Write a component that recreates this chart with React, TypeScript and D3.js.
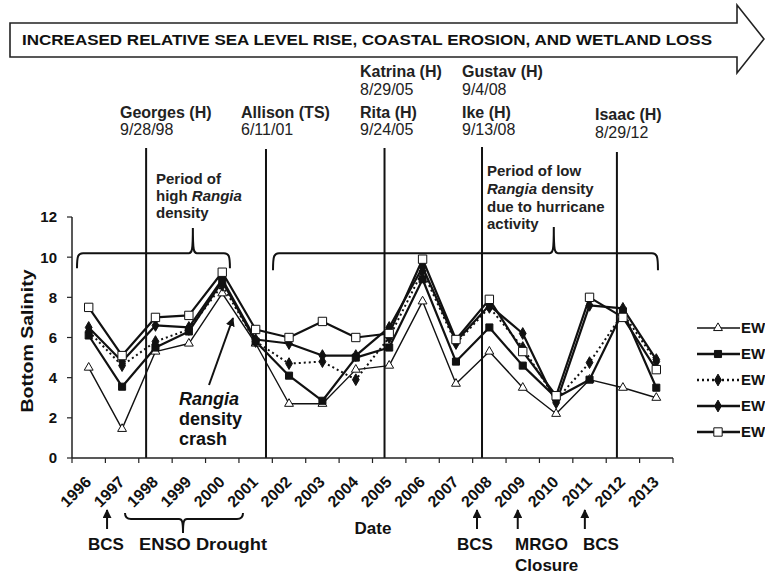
import React from "react";
import * as d3 from "d3";

const years = [1996, 1997, 1998, 1999, 2000, 2001, 2002, 2003, 2004, 2005, 2006, 2007, 2008, 2009, 2010, 2011, 2012, 2013];
const ew1 = [4.5, 1.45, 5.3, 5.7, 8.2, 5.7, 2.7, 2.7, 4.4, 4.6, 7.8, 3.7, 5.3, 3.5, 2.2, 3.9, 3.5, 3.0];
const ew2 = [6.1, 3.55, 5.5, 6.3, 8.8, 5.8, 4.1, 2.85, 5.0, 5.5, 8.9, 4.8, 6.5, 4.6, 3.0, 3.9, 7.3, 3.5];
const ew3 = [6.3, 4.6, 5.8, 6.4, 8.6, 5.8, 4.7, 4.8, 3.9, 6.0, 9.3, 5.7, 7.5, 5.5, 2.9, 4.75, 7.2, 4.8];
const ew4 = [6.5, 4.8, 6.6, 6.5, 8.9, 5.9, 5.7, 5.1, 5.1, 6.5, 9.5, 5.8, 7.6, 6.2, 2.75, 7.6, 7.45, 4.9];
const ew5 = [7.5, 5.1, 7.0, 7.1, 9.25, 6.4, 6.0, 6.8, 6.0, 6.2, 9.9, 5.9, 7.9, 5.3, 3.1, 8.0, 7.0, 4.4];
// legend entries are cut off at the right edge in the reference; only "EW" is visible
const seriesNames = ["EW", "EW", "EW", "EW", "EW"];
const yTicks = [0, 2, 4, 6, 8, 10, 12];

const events = [
  { name: "Georges (H)", date: "9/28/98", at: 1997.72, lx: 120, top: 148 },
  { name: "Allison (TS)", date: "6/11/01", at: 2001.31, lx: 241, top: 149 },
  { name: "Rita (H)", date: "9/24/05", at: 2004.86, lx: 360, top: 148 },
  { name: "Ike (H)", date: "9/13/08", at: 2007.78, lx: 462, top: 147 },
  { name: "Isaac (H)", date: "8/29/12", at: 2011.82, lx: 595, top: 152 },
];
const earlyEvents = [
  { name: "Katrina (H)", date: "8/29/05", lx: 360 },
  { name: "Gustav (H)", date: "9/4/08", lx: 462 },
];
const bottomNotes = [
  { at: 1996.55, lines: ["BCS"], tx: 106, anchor: "middle" },
  { at: 2007.63, lines: ["BCS"], tx: 475, anchor: "middle" },
  { at: 2008.85, lines: ["MRGO", "Closure"], tx: 515, anchor: "start" },
  { at: 2010.86, lines: ["BCS"], tx: 583, anchor: "start" },
];

const FONT = "'Liberation Sans', Arial, Helvetica, sans-serif";

function bracePath(X0: number, X1: number, XC: number, Y: number, YE: number, YT: number) {
  const dir = YE > Y ? 1 : -1;
  return `M${X0},${YE} C${X0},${Y + dir * 3} ${X0 + 1},${Y} ${X0 + 6},${Y} L${XC - 4},${Y} C${XC - 1},${Y} ${XC},${Y - dir * 2} ${XC},${YT} C${XC},${Y - dir * 2} ${XC + 1},${Y} ${XC + 4},${Y} L${X1 - 6},${Y} C${X1 - 1},${Y} ${X1},${Y + dir * 3} ${X1},${YE}`;
}

export default function App() {
  const x = d3.scaleLinear().domain([1995.5, 2013.5]).range([72, 673]);
  const y = d3.scaleLinear().domain([0, 12]).range([458, 217]);
  const xTicks = d3.range(1995.5, 2014, 1);

  const data = [ew1, ew2, ew3, ew4, ew5];
  const styles = [
    { width: 1.4, dash: undefined as string | undefined, sym: d3.symbolTriangle, size: 34, fill: "#fff" },
    { width: 2.2, dash: undefined, sym: d3.symbolSquare, size: 50, fill: "#111" },
    { width: 2, dash: "2,3", sym: d3.symbolDiamond, size: 40, fill: "#111" },
    { width: 2.2, dash: undefined, sym: d3.symbolDiamond, size: 40, fill: "#111" },
    { width: 2.2, dash: undefined, sym: d3.symbolSquare, size: 70, fill: "#fff" },
  ];
  const line = d3
    .line<number>()
    .x((_, i) => x(years[i]))
    .y((d) => y(d));

  const legendY = [328, 354, 380, 406, 432];

  return (
    <div style={{ position: "absolute", left: 0, top: 0, width: 765, height: 575, overflow: "hidden", background: "#fff" }}>
      <svg width={765} height={575} style={{ display: "block", fontFamily: FONT }}>
        <defs>
          <marker id="ah" viewBox="0 0 10 10" refX="9" refY="5" markerWidth="9" markerHeight="9" orient="auto" markerUnits="userSpaceOnUse">
            <path d="M0,0 L10,5 L0,10 Z" fill="#111" />
          </marker>
        </defs>
        <rect x={0} y={0} width={765} height={575} fill="#fff" />

        {/* top arrow */}
        <path d="M10,23 L737,23 L737,5 L764,39 L737,73 L737,57 L10,57 Z" fill="#fff" stroke="#222" strokeWidth={1.6} />
        <text x={22} y={45} fontSize={14} fontWeight="bold" fill="#111" textLength={690} lengthAdjust="spacingAndGlyphs">
          INCREASED RELATIVE SEA LEVEL RISE, COASTAL EROSION, AND WETLAND LOSS
        </text>

        {/* hurricane labels */}
        {earlyEvents.map((e) => (
          <g key={e.name}>
            <text x={e.lx} y={77} fontSize={16} fontWeight="bold" fill="#222">{e.name}</text>
            <text x={e.lx} y={95} fontSize={16} fill="#222">{e.date}</text>
          </g>
        ))}
        {events.map((e) => (
          <g key={e.name}>
            <text x={e.lx} y={e.name === "Isaac (H)" ? 120 : 118} fontSize={16} fontWeight="bold" fill="#222">{e.name}</text>
            <text x={e.lx} y={e.name === "Isaac (H)" ? 138 : 135} fontSize={16} fill="#222">{e.date}</text>
            <line x1={x(e.at)} x2={x(e.at)} y1={e.top} y2={y(0)} stroke="#111" strokeWidth={2} />
          </g>
        ))}

        {/* period annotations */}
        <g fontSize={15} fontWeight="bold" fill="#222">
          <text x={156} y={184}>Period of</text>
          <text x={156} y={201}>high <tspan fontStyle="italic">Rangia</tspan></text>
          <text x={156} y={218}>density</text>
          <text x={487} y={176}>Period of low</text>
          <text x={487} y={194}><tspan fontStyle="italic">Rangia</tspan> density</text>
          <text x={487} y={212}>due to hurricane</text>
          <text x={487} y={229}>activity</text>
        </g>
        <path d={bracePath(x(1995.65), x(2000.23), x(1999.12), y(10.2), y(9.45), y(11.45))} fill="none" stroke="#111" strokeWidth={2} />
        <path d={bracePath(x(2001.52), x(2013.05), x(2009.93), y(10.2), y(9.35), y(11.5))} fill="none" stroke="#111" strokeWidth={2} />

        {/* axes */}
        <line x1={x(1995.5)} x2={x(2013.5)} y1={y(0)} y2={y(0)} stroke="#222" strokeWidth={1.5} />
        <line x1={x(1995.5)} x2={x(1995.5)} y1={y(0)} y2={y(12)} stroke="#222" strokeWidth={1.5} />
        {xTicks.map((t) => (
          <line key={t} x1={x(t)} x2={x(t)} y1={y(0)} y2={y(0) + 5} stroke="#222" strokeWidth={1.2} />
        ))}
        {yTicks.map((t) => (
          <g key={t}>
            <line x1={x(1995.5) - 5} x2={x(1995.5)} y1={y(t)} y2={y(t)} stroke="#222" strokeWidth={1.2} />
            <text x={57} y={y(t)} dy="0.36em" textAnchor="end" fontSize={15} fontWeight="bold" fill="#111">{t}</text>
          </g>
        ))}
        {years.map((yr) => (
          <text key={yr} transform={`translate(${x(yr) + 3.5},483) rotate(-45)`} textAnchor="end" fontSize={16} fontWeight="bold" fill="#111">
            {yr}
          </text>
        ))}
        <text transform="translate(33,341) rotate(-90)" textAnchor="middle" fontSize={17} fontWeight="bold" fill="#111" textLength={143} lengthAdjust="spacingAndGlyphs">
          Bottom Salinity
        </text>
        <text x={373} y={534} textAnchor="middle" fontSize={17} fontWeight="bold" fill="#111">Date</text>

        {/* series lines */}
        {data.map((d, i) => (
          <path key={i} d={line(d) || ""} fill="none" stroke="#111" strokeWidth={styles[i].width} strokeDasharray={styles[i].dash} strokeLinejoin="round" />
        ))}
        {data.map((d, i) =>
          d.map((v, j) => (
            <path
              key={`${i}-${j}`}
              d={d3.symbol().type(styles[i].sym).size(styles[i].size)() || ""}
              transform={`translate(${x(years[j])},${y(v)})`}
              fill={styles[i].fill}
              stroke="#111"
              strokeWidth={1}
            />
          ))
        )}

        {/* Rangia crash */}
        <line x1={209} y1={385} x2={233} y2={318} stroke="#111" strokeWidth={2} markerEnd="url(#ah)" />
        <g fontSize={18} fontWeight="bold" fill="#111">
          <text x={179} y={405} fontStyle="italic">Rangia</text>
          <text x={179} y={425}>density</text>
          <text x={179} y={445}>crash</text>
        </g>

        {/* legend */}
        {seriesNames.map((n, i) => (
          <g key={i}>
            <line x1={697} x2={740} y1={legendY[i]} y2={legendY[i]} stroke="#111" strokeWidth={styles[i].width + 0.3} strokeDasharray={styles[i].dash} />
            <path d={d3.symbol().type(styles[i].sym).size(styles[i].size)() || ""} transform={`translate(718,${legendY[i]})`} fill={styles[i].fill} stroke="#111" strokeWidth={1} />
            <text x={741} y={legendY[i]} dy="0.36em" fontSize={15} fontWeight="bold" fill="#111">{n}</text>
          </g>
        ))}

        {/* bottom annotations */}
        {bottomNotes.map((b, i) => (
          <g key={i}>
            <line x1={x(b.at)} x2={x(b.at)} y1={529} y2={510} stroke="#111" strokeWidth={2} markerEnd="url(#ah)" />
            {b.lines.map((l, k) => (
              <text key={l} x={b.tx} y={550 + k * 21} textAnchor={b.anchor as any} fontSize={17} fontWeight="bold" fill="#111">{l}</text>
            ))}
          </g>
        ))}
        <path d={bracePath(125, 243, 183, 519, 513, 533)} fill="none" stroke="#111" strokeWidth={2} />
        <text x={203} y={550} textAnchor="middle" fontSize={17} fontWeight="bold" fill="#111" textLength={128} lengthAdjust="spacingAndGlyphs">ENSO Drought</text>
      </svg>
    </div>
  );
}
